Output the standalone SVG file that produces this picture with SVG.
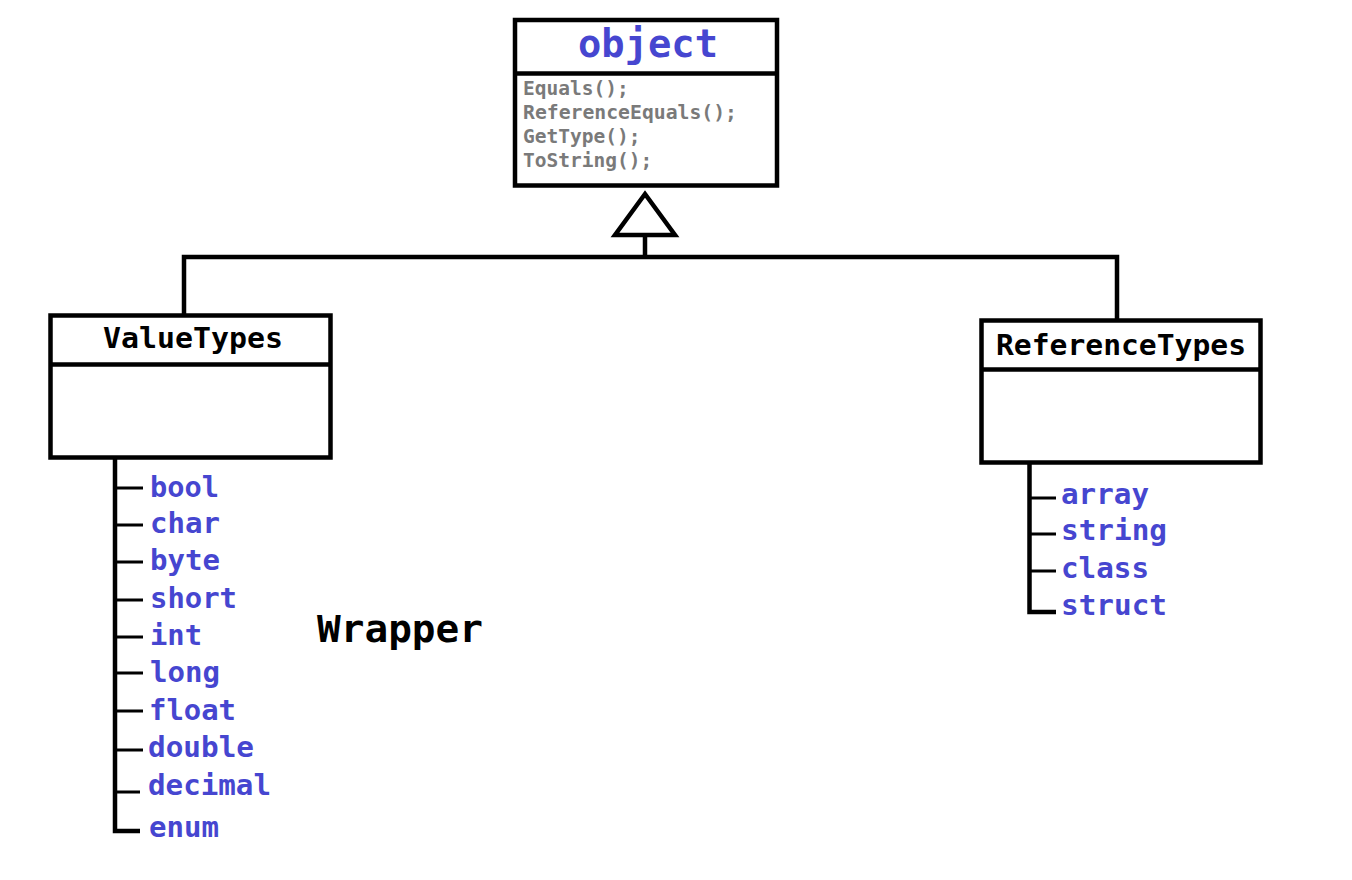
<svg xmlns="http://www.w3.org/2000/svg" width="1352" height="880" viewBox="0 0 1352 880">
<style>
.box{fill:#fff;stroke:#000;stroke-width:4.5}
.ln{fill:none;stroke:#000;stroke-width:4.5;stroke-linejoin:miter}
.tk{fill:none;stroke:#000;stroke-width:3}
text{font-family:"DejaVu Sans Mono","Liberation Mono",monospace;font-weight:bold}
.title{fill:#000;font-size:28px}
.item{fill:#4646d0;font-size:28px}
.meth{fill:#7a7a7a;font-size:19.5px}
</style>
<rect width="1352" height="880" fill="#fff"/>
<g id="connectors">
  <polygon points="645,194 615,235 675,235" fill="#fff" stroke="#000" stroke-width="4.5"/>
  <path class="ln" d="M645,235 V257"/>
  <path class="ln" d="M184,316 V257 H1117 V321"/>
  <path class="ln" d="M115,458 V831 H140"/>
  <path class="tk" d="M115,488 H143 M115,525 H143 M115,562 H143 M115,600 H143 M115,637 H143 M115,673 H143 M115,711 H143 M115,750 H143 M115,792 H140"/>
  <path class="ln" d="M1029.5,463 V612 H1056"/>
  <path class="tk" d="M1029.5,498 H1056 M1029.5,534 H1056 M1029.5,571 H1056"/>
</g>
<g id="object">
  <rect class="box" x="515" y="20" width="262" height="165.5"/>
  <line class="ln" x1="515" y1="73.5" x2="777" y2="73.5"/>
  <text x="648" y="57" text-anchor="middle" font-size="39" fill="#4646d0" textLength="140" lengthAdjust="spacingAndGlyphs">object</text>
  <text class="meth" x="523" y="95">Equals();</text>
  <text class="meth" x="523" y="119" textLength="214" lengthAdjust="spacingAndGlyphs">ReferenceEquals();</text>
  <text class="meth" x="523" y="143">GetType();</text>
  <text class="meth" x="523" y="167">ToString();</text>
</g>
<g id="valuetypes">
  <rect class="box" x="50.5" y="315.5" width="280" height="142"/>
  <line class="ln" x1="50.5" y1="364.5" x2="330.5" y2="364.5"/>
  <text class="title" x="103" y="348" textLength="180" lengthAdjust="spacingAndGlyphs">ValueTypes</text>
</g>
<g id="referencetypes">
  <rect class="box" x="981.5" y="320.5" width="279" height="142"/>
  <line class="ln" x1="981.5" y1="369.5" x2="1260.5" y2="369.5"/>
  <text class="title" x="996" y="355" textLength="250" lengthAdjust="spacingAndGlyphs">ReferenceTypes</text>
</g>
<g id="value-items">
  <text class="item" x="150" y="497" textLength="69" lengthAdjust="spacingAndGlyphs">bool</text>
  <text class="item" x="150" y="533" textLength="70" lengthAdjust="spacingAndGlyphs">char</text>
  <text class="item" x="150" y="570" textLength="70" lengthAdjust="spacingAndGlyphs">byte</text>
  <text class="item" x="150" y="608" textLength="87" lengthAdjust="spacingAndGlyphs">short</text>
  <text class="item" x="150" y="645" textLength="52" lengthAdjust="spacingAndGlyphs">int</text>
  <text class="item" x="150" y="682" textLength="70" lengthAdjust="spacingAndGlyphs">long</text>
  <text class="item" x="149" y="720" textLength="87" lengthAdjust="spacingAndGlyphs">float</text>
  <text class="item" x="148" y="757" textLength="106" lengthAdjust="spacingAndGlyphs">double</text>
  <text class="item" x="148" y="795" textLength="123" lengthAdjust="spacingAndGlyphs">decimal</text>
  <text class="item" x="149" y="837" textLength="70" lengthAdjust="spacingAndGlyphs">enum</text>
</g>
<g id="reference-items">
  <text class="item" x="1061" y="504" textLength="88" lengthAdjust="spacingAndGlyphs">array</text>
  <text class="item" x="1061" y="540" textLength="106" lengthAdjust="spacingAndGlyphs">string</text>
  <text class="item" x="1061" y="578" textLength="88" lengthAdjust="spacingAndGlyphs">class</text>
  <text class="item" x="1061" y="615" textLength="106" lengthAdjust="spacingAndGlyphs">struct</text>
</g>
<g id="wrapper">
  <text x="317" y="642" font-size="38" fill="#000" textLength="166" lengthAdjust="spacingAndGlyphs">Wrapper</text>
</g>
</svg>
